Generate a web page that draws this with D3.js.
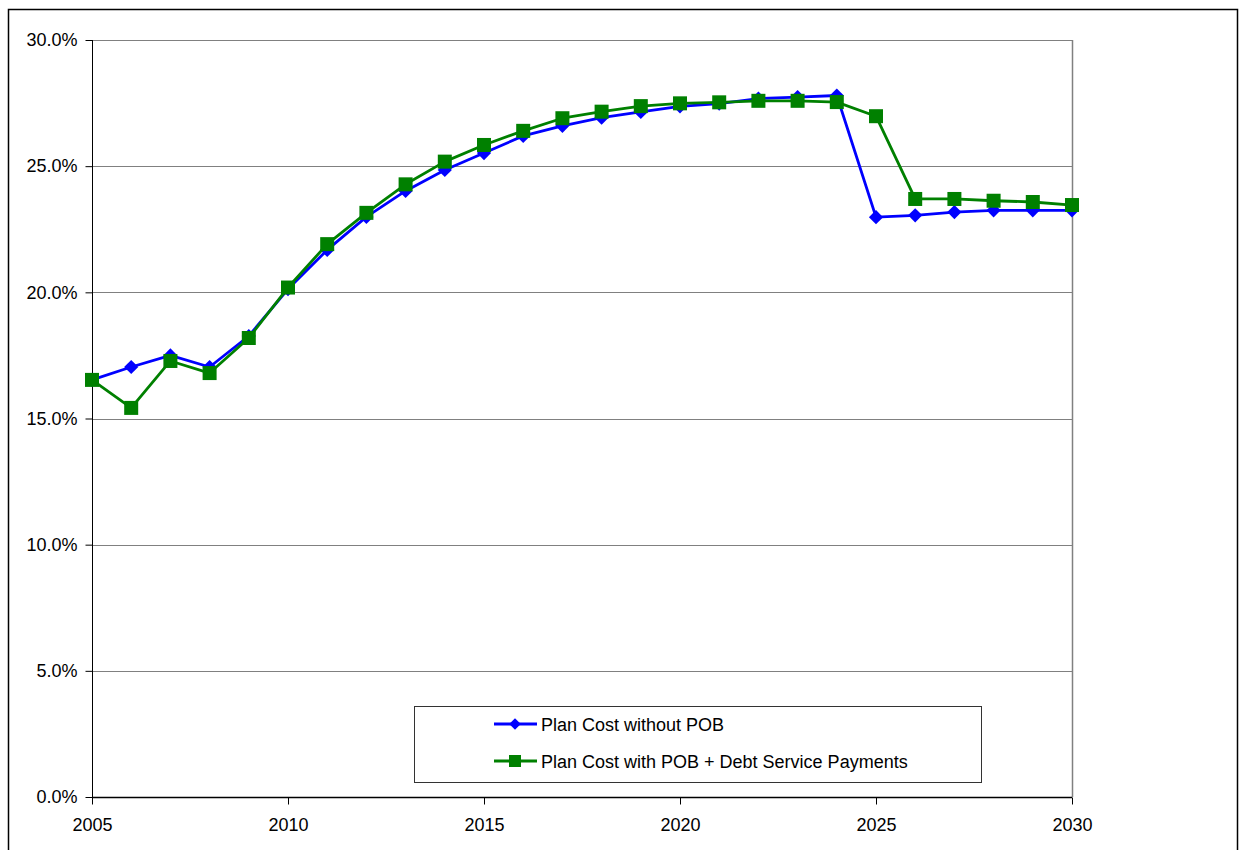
<!DOCTYPE html>
<html>
<head>
<meta charset="utf-8">
<script src="https://cdn.jsdelivr.net/npm/d3@7/dist/d3.min.js"></script>
<style>
  html, body { margin: 0; padding: 0; background: #fff; }
  svg { display: block; font-family: "Liberation Sans", Arial, sans-serif; }
</style>
</head>
<body>
<svg id="chart" width="1239" height="850"></svg>
<script>
// Plan cost as a share of payroll, by year
const years = d3.range(2005, 2031);
const planCostWithoutPOB = [16.53, 17.04, 17.5, 17.04, 18.27, 20.13, 21.68, 22.99, 24.02, 24.85,
  25.52, 26.2, 26.6, 26.92, 27.15, 27.37, 27.48, 27.68, 27.74, 27.8,
  22.98, 23.05, 23.18, 23.25, 23.25, 23.25];
const planCostWithPOB = [16.53, 15.42, 17.28, 16.8, 18.19, 20.19, 21.91, 23.15, 24.28, 25.18,
  25.84, 26.4, 26.9, 27.16, 27.38, 27.49, 27.53, 27.59, 27.59, 27.54,
  26.98, 23.7, 23.7, 23.63, 23.58, 23.46];
const seriesNames = ["Plan Cost without POB", "Plan Cost with POB + Debt Service Payments"];
const yTicks = [0, 5, 10, 15, 20, 25, 30];
const xTicks = [2005, 2010, 2015, 2020, 2025, 2030];

const svg = d3.select("#chart");
const plot = { left: 92, right: 1072, top: 40, bottom: 797 };
const FONT = 18;

const x = d3.scaleLinear().domain([2005, 2030]).range([plot.left, plot.right]);
const y = d3.scaleLinear().domain([0, 30]).range([plot.bottom, plot.top]);

// outer chart frame
svg.append("rect")
  .attr("x", 8.5).attr("y", 9.5).attr("width", 1229).attr("height", 880)
  .attr("fill", "none").attr("stroke", "#000").attr("stroke-width", 1.5);

// horizontal gridlines
svg.append("g")
  .selectAll("line")
  .data(yTicks.filter(d => d > 0))
  .join("line")
  .attr("x1", plot.left).attr("x2", plot.right)
  .attr("y1", d => Math.round(y(d)) + 0.5).attr("y2", d => Math.round(y(d)) + 0.5)
  .attr("stroke", "#808080").attr("stroke-width", 1);

// right border of plot area
svg.append("line")
  .attr("x1", plot.right + 0.5).attr("x2", plot.right + 0.5)
  .attr("y1", plot.top).attr("y2", plot.bottom)
  .attr("stroke", "#808080").attr("stroke-width", 1.5);

// y axis
const yAxis = d3.axisLeft(y)
  .tickValues(yTicks)
  .tickSize(7)
  .tickPadding(8)
  .tickFormat(d => d3.format(".1f")(d) + "%");
const gy = svg.append("g")
  .attr("transform", `translate(${plot.left + 0.5},0)`)
  .call(yAxis);
gy.selectAll("text").attr("font-size", FONT).attr("fill", "#000")
  .attr("font-family", "Liberation Sans, Arial, sans-serif");
gy.selectAll("line, path").attr("stroke", "#000");
gy.select(".domain").attr("d", `M0,${plot.top}V${plot.bottom}`);

// x axis
const xAxis = d3.axisBottom(x)
  .tickValues(xTicks)
  .tickSize(7)
  .tickPadding(14)
  .tickFormat(d3.format("d"));
const gx = svg.append("g")
  .attr("transform", `translate(0,${plot.bottom + 0.5})`)
  .call(xAxis);
gx.selectAll("text").attr("font-size", FONT).attr("fill", "#000")
  .attr("font-family", "Liberation Sans, Arial, sans-serif");
gx.selectAll("line, path").attr("stroke", "#000");
gx.select(".domain").attr("d", `M${plot.left},0H${plot.right}`).attr("stroke-width", 1.5);

const line = d3.line().x((d, i) => x(years[i])).y(d => y(d));

const diamond = d3.symbol().type(d3.symbolDiamond2).size(128);

function drawSeries(values, color, marker) {
  const g = svg.append("g");
  g.append("path")
    .datum(values)
    .attr("d", line)
    .attr("fill", "none")
    .attr("stroke", color)
    .attr("stroke-width", 2.8)
    .attr("stroke-linejoin", "round");
  if (marker === "diamond") {
    g.selectAll("path.pt")
      .data(values)
      .join("path")
      .attr("class", "pt")
      .attr("d", diamond)
      .attr("transform", (d, i) => `translate(${x(years[i])},${y(d)})`)
      .attr("fill", color);
  } else {
    const s = 14;
    g.selectAll("rect.pt")
      .data(values)
      .join("rect")
      .attr("class", "pt")
      .attr("x", (d, i) => x(years[i]) - s / 2)
      .attr("y", d => y(d) - s / 2)
      .attr("width", s).attr("height", s)
      .attr("fill", color);
  }
}

drawSeries(planCostWithoutPOB, "#0000ff", "diamond");
drawSeries(planCostWithPOB, "#008000", "square");

// legend
const legend = svg.append("g");
legend.append("rect")
  .attr("x", 414.5).attr("y", 706.5).attr("width", 567).attr("height", 76)
  .attr("fill", "#fff").attr("stroke", "#333").attr("stroke-width", 1);

const legendItems = [
  { name: seriesNames[0], color: "#0000ff", marker: "diamond", cy: 724 },
  { name: seriesNames[1], color: "#008000", marker: "square", cy: 761 }
];
legendItems.forEach(it => {
  legend.append("line")
    .attr("x1", 494).attr("x2", 537).attr("y1", it.cy).attr("y2", it.cy)
    .attr("stroke", it.color).attr("stroke-width", 2.8);
  if (it.marker === "diamond") {
    legend.append("path")
      .attr("d", d3.symbol().type(d3.symbolDiamond2).size(84)())
      .attr("transform", `translate(515,${it.cy})`)
      .attr("fill", it.color);
  } else {
    legend.append("rect")
      .attr("x", 515 - 6).attr("y", it.cy - 6).attr("width", 12).attr("height", 12)
      .attr("fill", it.color);
  }
  legend.append("text")
    .attr("x", 541).attr("y", it.cy + 6.5)
    .attr("font-size", FONT)
    .attr("fill", "#000")
    .text(it.name);
});
</script>
</body>
</html>
